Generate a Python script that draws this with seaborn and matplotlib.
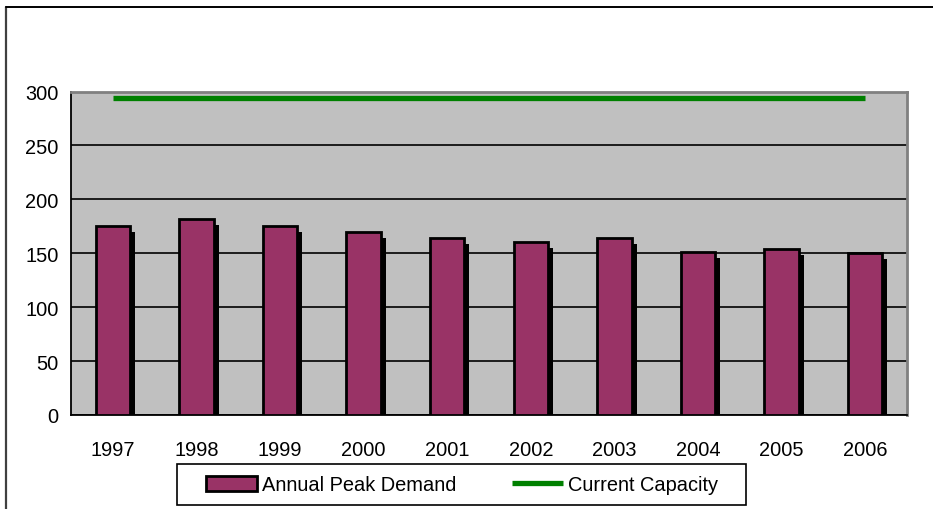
import numpy as np
import pandas as pd
import matplotlib
matplotlib.use("Agg")
import matplotlib.pyplot as plt
import matplotlib.patheffects as pe
from matplotlib.lines import Line2D
from matplotlib.patches import Patch, Rectangle
import seaborn as sns

years = ["1997", "1998", "1999", "2000", "2001", "2002", "2003", "2004", "2005", "2006"]
peak_demand = [175, 182, 175, 170, 164, 160, 164, 151, 154, 150]
capacity = [294] * len(years)
y_ticks = [0, 50, 100, 150, 200, 250, 300]

df = pd.DataFrame({"Year": years, "Annual Peak Demand": peak_demand,
                   "Current Capacity": capacity})

sns.set_theme(style="white")
plt.rcParams["font.family"] = ["Liberation Sans", "DejaVu Sans"]

BAR = "#993366"
LINE = "#008000"
FS = 14.4
W, H = 933, 510

fig = plt.figure(figsize=(W / 100, H / 100), dpi=100)
ax = fig.add_axes([71 / W, 1 - 416 / H, (907 - 71) / W, (416 - 92.5) / H])
ax.set_facecolor("#C0C0C0")

sns.barplot(data=df, x="Year", y="Annual Peak Demand", color=BAR, saturation=1,
            edgecolor="black", linewidth=2, width=0.41, ax=ax, zorder=3)
for bar in ax.patches:
    bar.set_path_effects([pe.SimplePatchShadow(offset=(3.6, -4.3), shadow_rgbFace="black",
                                               alpha=1.0), pe.Normal()])

sns.pointplot(data=df, x="Year", y="Current Capacity", color=LINE, marker="",
              linestyle="-", linewidth=3.8, ax=ax, zorder=4)
for ln in ax.lines:
    ln.set_solid_capstyle("butt")

ax.set_xlim(-0.5, len(years) - 0.5)
ax.set_ylim(0, 300)
ax.set_yticks(y_ticks)
ax.set_yticklabels([str(v) for v in y_ticks])
ax.yaxis.grid(True, color="black", linewidth=1.2)
ax.set_axisbelow(True)

# category boundaries get the tick marks, year labels sit between them
ax.set_xticks(np.arange(-0.5, len(years), 1.0))
ax.set_xticklabels([])
ax.set_xticks(np.arange(len(years)), minor=True)
ax.set_xticklabels(years, minor=True)
ax.tick_params(axis="x", which="major", direction="inout", length=12, width=1.2, color="black")
ax.tick_params(axis="x", which="minor", length=0, pad=18, labelsize=FS, labelcolor="black")
ax.tick_params(axis="y", direction="out", length=5, width=1.2, color="black",
               labelsize=FS, labelcolor="black", pad=4)
ax.set_xlabel("")
ax.set_ylabel("")

for side in ("left", "bottom"):
    ax.spines[side].set_color("black")
    ax.spines[side].set_linewidth(1.3)
for side in ("top", "right"):
    ax.spines[side].set_color("#808080")
    ax.spines[side].set_linewidth(2)

# legend box drawn separately so its margins can be set freely
fig.add_artist(Rectangle((177 / W, 1 - 506 / H), (746 - 177) / W, (506 - 465) / H,
                         transform=fig.transFigure, facecolor="white",
                         edgecolor="black", linewidth=1.2))
handles = [Patch(facecolor=BAR, edgecolor="black", linewidth=2),
           Line2D([0], [0], color=LINE, linewidth=3.8, solid_capstyle="butt")]
leg = fig.legend(handles, ["Annual Peak Demand", "Current Capacity"], ncol=2,
                 loc="center", bbox_to_anchor=(462 / W, 1 - 486 / H),
                 fontsize=FS, frameon=False,
                 handlelength=2.55, handleheight=0.8, handletextpad=0.25,
                 columnspacing=2.8, borderpad=0.3, labelcolor="black")

# chart area frame along the left and top edges
fig.add_artist(Line2D([6 / W, 6 / W], [0, 1 - 8 / H], color="#404040",
                      linewidth=1.6, transform=fig.transFigure))
fig.add_artist(Line2D([6 / W, 1], [1 - 8 / H, 1 - 8 / H], color="black",
                      linewidth=1.4, transform=fig.transFigure))

fig.savefig("out.png", dpi=100)
